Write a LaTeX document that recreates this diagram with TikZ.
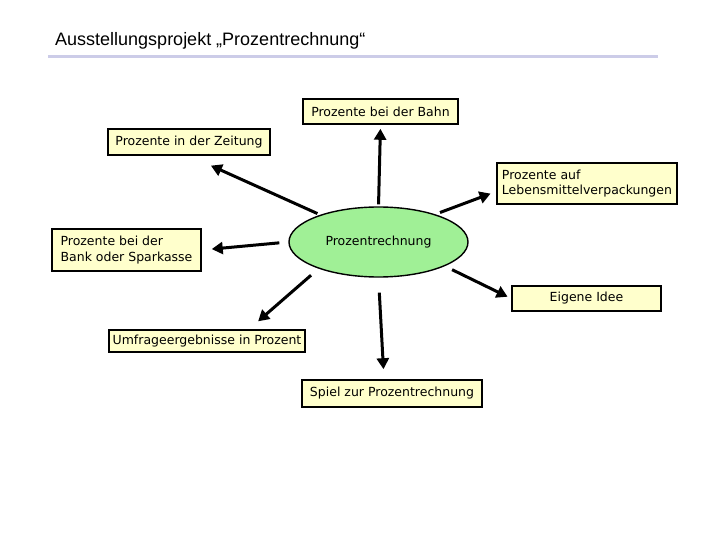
\documentclass[tikz,border=0pt]{standalone}
\usepackage{fontspec}
\setmainfont{DejaVu Sans}
\newfontfamily\titlefont{Liberation Sans}
\usetikzlibrary{shapes.geometric,arrows.meta}
\definecolor{boxyellow}{RGB}{255,255,204}
\definecolor{ovalgreen}{RGB}{160,240,150}
\definecolor{rulelavender}{RGB}{204,204,232}
\tikzstyle{box} = [rectangle, draw = black, fill = boxyellow, line width = 1.6pt, inner sep = 0pt, align = left, font = \fontsize{12.5}{15.5}\selectfont]
\tikzstyle{oval} = [ellipse, draw = black, fill = ovalgreen, line width = 1.4pt, inner sep = 0pt, minimum width = 179pt, minimum height = 70pt, font = \fontsize{12.5}{15.5}\selectfont]
\tikzstyle{spoke} = [-{Triangle[length = 11pt, width = 12pt]}, line width = 3pt]

\begin{document}
\begin{tikzpicture}[x = 1pt, y = -1pt]
            \useasboundingbox (0, 0) rectangle (720, 540);
            \node (title) at (55, 46) [anchor = base west, inner sep = 0pt, font = \titlefont\fontsize{18}{21}\selectfont] {Ausstellungsprojekt „Prozentrechnung“};
            \draw [rulelavender, line width = 3pt] (48, 57) -- (658, 57);
            \node (c) at (378.5, 242) [oval] {Prozentrechnung};
            \node (bahn) at (380.5, 111.5) [box, minimum width = 155pt, minimum height = 25pt] {Prozente bei der Bahn};
            \node (zeitung) at (189, 142) [box, minimum width = 162pt, minimum height = 26pt] {Prozente in der Zeitung};
            \node (leb) at (587, 183.5) [box, minimum width = 180pt, minimum height = 41pt] {Prozente auf\\Lebensmittelverpackungen};
            \node (bank) at (126.5, 250) [box, minimum width = 149pt, minimum height = 42pt] {Prozente bei der\\Bank oder Sparkasse};
            \node (eigene) at (586.5, 298.5) [box, minimum width = 149pt, minimum height = 25pt] {Eigene Idee};
            \node (umfrage) at (207, 341) [box, minimum width = 196pt, minimum height = 22pt] {Umfrageergebnisse in Prozent};
            \node (spiel) at (392, 393.5) [box, minimum width = 180pt, minimum height = 27pt] {Spiel zur Prozentrechnung};
            \draw [spoke, shorten <= 2pt, shorten >= 4pt] (c.north) -- (bahn.south);
            \draw [spoke, shorten <= 3pt, shorten >= 24pt] (c.155) -- (zeitung.south);
            \draw [spoke, shorten <= 5pt, shorten >= 6pt] (c.26) -- ([yshift = -8pt]leb.west);
            \draw [spoke, shorten <= 9pt, shorten >= 10pt] (c.west) -- (bank.east);
            \draw [spoke, shorten <= 8pt, shorten >= 4pt] (c.-20) -- (eigene.west);
            \draw [spoke, shorten <= 10pt, shorten >= 12pt] (c.204) -- ([xshift = 42pt]umfrage.north);
            \draw [spoke, shorten <= 15pt, shorten >= 10pt] (c.south) -- ([xshift = -8pt]spiel.north);
        \end{tikzpicture}
\end{document}
